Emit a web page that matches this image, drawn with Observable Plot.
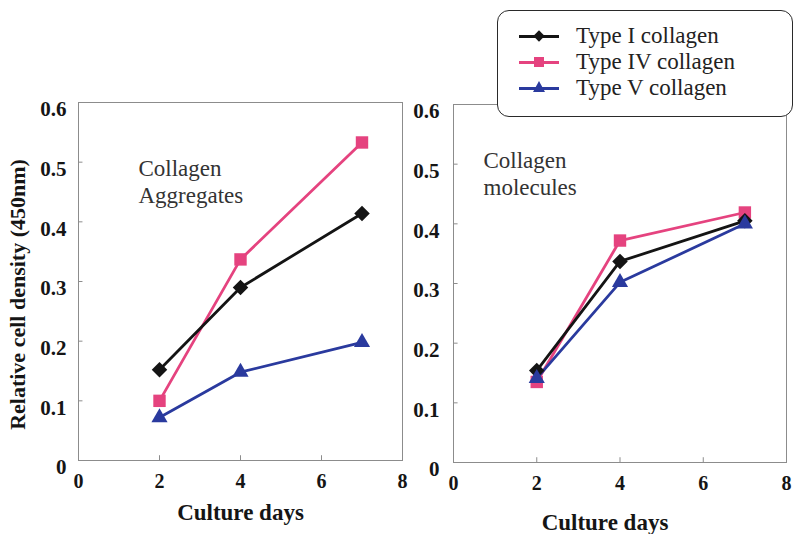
<!DOCTYPE html>
<html><head><meta charset="utf-8">
<script src="https://cdn.jsdelivr.net/npm/d3@7"></script>
<script src="https://cdn.jsdelivr.net/npm/@observablehq/plot@0.6"></script>
<style>
body{margin:0;background:#fff;}
#wrap{position:relative;width:795px;height:534px;overflow:hidden;font-family:"Liberation Serif",serif;background:#fff;}
#wrap svg{position:absolute;top:0;}
#legend{position:absolute;left:497px;top:10px;width:296px;height:107px;border:1.6px solid #2a2a2a;border-radius:12px;background:#fff;box-sizing:border-box;z-index:5;}
.row{position:absolute;left:0;height:26px;width:100%;}
.ln{position:absolute;left:21px;width:40px;height:3px;top:11.5px;}
.mk{position:absolute;}
.tx{position:absolute;left:78px;top:0;line-height:26px;font-size:23px;color:#222;white-space:nowrap;font-family:"Liberation Serif",serif;}
</style></head><body><div id="wrap"></div>
<script>
// ---- data ----
const days = [2, 4, 7];
const seriesNames = ["Type I collagen", "Type IV collagen", "Type V collagen"];
const seriesColors = ["#141414", "#e5437f", "#2a3a9e"];
const seriesSymbols = ["diamond2", "square", "triangle"];
const seriesRadius = [7, 7, 6];
// Collagen aggregates panel
const aggType1 = [0.152, 0.290, 0.414];
const aggType4 = [0.100, 0.337, 0.533];
const aggType5 = [0.072, 0.148, 0.198];
// Collagen molecules panel
const molType1 = [0.154, 0.337, 0.405];
const molType4 = [0.135, 0.372, 0.419];
const molType5 = [0.141, 0.302, 0.400];
const xTicks = [0, 2, 4, 6, 8];
const yTicks = [0, 0.1, 0.2, 0.3, 0.4, 0.5, 0.6];
const xTitle = "Culture days";
const yTitle = "Relative cell density (450nm)";

const FONT = "Liberation Serif";
const drawOrder = [1, 0, 2]; // pink, black, blue on top

function rowsFor(vals, i) {
  return days.map((d, j) => ({day: d, value: vals[j], series: seriesNames[i]}));
}

function panel(opts) {
  const {seriesVals, left, width, mL, mR, mT, mB, note, noteDx, noteDy, titleDx, titleDy, labelPad, showYTitle} = opts;
  const marks = [
    Plot.frame({stroke: "#8c8c8c", strokeWidth: 1}),
    Plot.ruleX(xTicks.filter(d => d > 0 && d < 8), {y1: 0, y2: 0.008, stroke: "#8c8c8c"}),
    Plot.ruleY(yTicks.filter(d => d > 0 && d < 0.6), {x1: 0, x2: 0.11, stroke: "#8c8c8c"}),
    Plot.axisX({ticks: xTicks, tickSize: 0, tickPadding: 13, tickFormat: d => String(d), fontFamily: FONT, fontSize: 20, fontWeight: "bold", fill: "#151515", label: null}),
    Plot.axisY({ticks: yTicks, tickSize: 0, tickPadding: labelPad, dy: 7, tickFormat: d => d === 0 ? "0" : d.toFixed(1), fontFamily: FONT, fontSize: 21, fontWeight: "bold", fill: "#151515", label: null}),
    Plot.text([xTitle], {frameAnchor: "bottom", textAnchor: "middle", dx: titleDx, dy: titleDy, fontFamily: FONT, fontSize: 23, fontWeight: "bold", fill: "#151515", lineAnchor: "middle"}),
    Plot.text([note], {frameAnchor: "top-left", textAnchor: "start", lineAnchor: "top", dx: noteDx, dy: noteDy, fontFamily: FONT, fontSize: 23, lineHeight: 1.15, fill: "#333"})
  ];
  if (showYTitle) {
    marks.push(Plot.text([yTitle], {frameAnchor: "left", textAnchor: "middle", rotate: -90, dx: -61, dy: 13, fontFamily: FONT, fontSize: 22, fontWeight: "bold", fill: "#151515", lineAnchor: "middle"}));
  }
  for (const i of drawOrder) {
    const rows = rowsFor(seriesVals[i], i);
    marks.push(Plot.line(rows, {x: "day", y: "value", stroke: seriesColors[i], strokeWidth: 2.8}));
  }
  for (const i of drawOrder) {
    const rows = rowsFor(seriesVals[i], i);
    marks.push(Plot.dot(rows, {x: "day", y: "value", symbol: seriesSymbols[i], r: seriesRadius[i], fill: seriesColors[i], stroke: "none"}));
  }
  const svg = Plot.plot({
    width, height: 534,
    marginLeft: mL, marginRight: mR, marginTop: mT, marginBottom: mB,
    x: {domain: [0, 8], axis: null},
    y: {domain: [0, 0.6], axis: null},
    style: {fontFamily: FONT, background: "transparent", overflow: "visible"},
    marks
  });
  svg.style.left = left + "px";
  return svg;
}

const wrap = document.getElementById("wrap");
wrap.appendChild(panel({
  seriesVals: [aggType1, aggType4, aggType5],
  left: 0, width: 410, mL: 78, mR: 8, mT: 102, mB: 74,
  note: "Collagen\nAggregates", noteDx: 60, noteDy: 55,
  titleDx: 0, titleDy: 52, labelPad: 12, showYTitle: true
}));
wrap.appendChild(panel({
  seriesVals: [molType1, molType4, molType5],
  left: 410, width: 385, mL: 43, mR: 9, mT: 104, mB: 72,
  note: "Collagen\nmolecules", noteDx: 30, noteDy: 45,
  titleDx: -15, titleDy: 60, labelPad: 14, showYTitle: false
}));

// legend
const legend = document.createElement("div");
legend.id = "legend";
seriesNames.forEach((name, i) => {
  const row = document.createElement("div");
  row.className = "row";
  row.style.top = (12 + 26 * i) + "px";
  const ln = document.createElement("div");
  ln.className = "ln"; ln.style.background = seriesColors[i];
  row.appendChild(ln);
  const mk = document.createElement("div");
  mk.className = "mk";
  const c = seriesColors[i];
  if (seriesSymbols[i] === "diamond2") {
    Object.assign(mk.style, {left: "37px", top: "9px", width: "8px", height: "8px", background: c, transform: "rotate(45deg)"});
  } else if (seriesSymbols[i] === "square") {
    Object.assign(mk.style, {left: "36px", top: "8px", width: "10px", height: "10px", background: c});
  } else {
    Object.assign(mk.style, {left: "35px", top: "6px", width: "0", height: "0", borderLeft: "6px solid transparent", borderRight: "6px solid transparent", borderBottom: "11px solid " + c});
  }
  row.appendChild(mk);
  const tx = document.createElement("div");
  tx.className = "tx"; tx.textContent = name;
  row.appendChild(tx);
  legend.appendChild(row);
});
wrap.appendChild(legend);
</script>
</body></html>
